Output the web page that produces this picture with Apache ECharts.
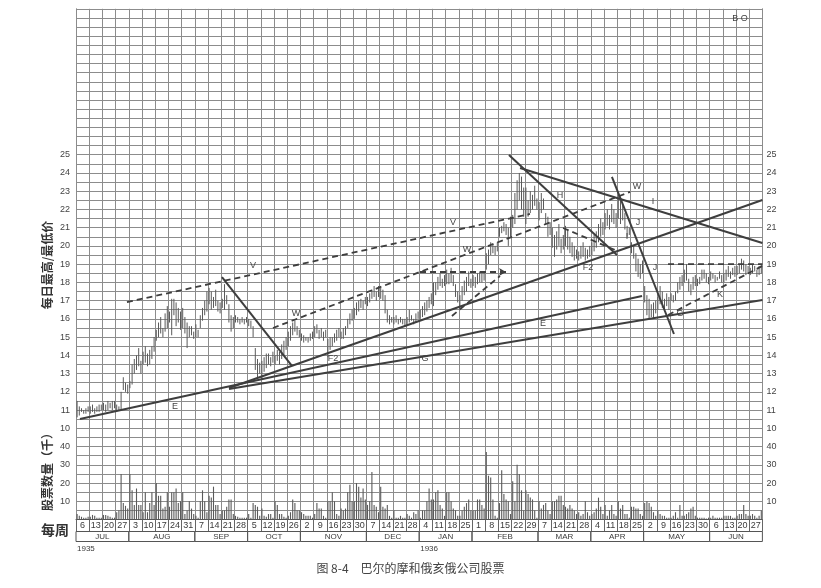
<!DOCTYPE html>
<html><head><meta charset="utf-8">
<script src="https://cdn.jsdelivr.net/npm/echarts@6/dist/echarts.min.js"></script>
<style>html,body{margin:0;padding:0;background:#fff}#c{width:821px;height:588px}</style>
</head><body><div id="c"></div>
<script>
// ---------- categories / tick labels ----------
const weekLabels = [6,13,20,27, 3,10,17,24,31, 7,14,21,28, 5,12,19,26, 2,9,16,23,30, 7,14,21,28,
  4,11,18,25, 1,8,15,22,29, 7,14,21,28, 4,11,18,25, 2,9,16,23,30, 6,13,20,27];
const months = ['JUL','AUG','SEP','OCT','NOV','DEC','JAN','FEB','MAR','APR','MAY','JUN'];
const monthWeeks = [4,5,4,4,5,4,4,5,4,4,5,4];
const yearLabels = ['1935','1936'];
const yearStartWeeks = [0,26];
const priceTicks = [10,11,12,13,14,15,16,17,18,19,20,21,22,23,24,25];
const volumeTicks = [10,20,30,40];

// ---------- daily high / low (6 trading days per week) ----------
const dailyLow = [
 10.6,10.7,10.9,10.8,10.8,10.9, 10.8,10.9,10.8,10.9,10.9,11.0, 11.0,10.9,11.0,11.1,11.0,11.1, 10.9,11.0,11.0,12.1,12.0,11.9,
 12.2,12.4,13.0,13.2,13.4,13.0, 13.5,13.6,13.4,13.5,13.8,14.2, 14.8,15.0,15.2,15.0,15.3,15.5, 15.8,15.1,16.2,15.6,15.8,15.4, 15.5,15.2,14.4,15.0,15.1,14.9,
 15.0,15.0,15.5,15.9,16.2,16.4, 16.8,16.5,16.6,16.7,16.4,16.3, 16.6,16.5,16.8,15.8,15.3,15.5, 15.8,15.8,15.7,15.8,15.7,15.8,
 15.6,15.5,15.0,13.2,12.8,13.0, 12.7,13.1,13.3,13.5,13.4,13.6, 13.5,13.7,13.5,13.8,14.0,14.3, 14.5,14.8,15.1,15.3,15.1,15.0,
 14.8,14.7,14.8,14.7,14.8,14.9, 15.0,15.2,14.9,15.0,14.8,15.0, 13.9,14.3,14.5,14.7,14.8,15.0, 14.9,14.9,15.1,15.5,15.7,15.9, 16.0,16.2,16.4,16.6,16.5,16.8,
 16.7,16.9,17.1,17.2,17.0,17.2, 17.1,17.0,16.3,15.8,15.7,15.8, 15.7,15.8,15.7,15.8,15.7,15.6, 15.7,15.8,15.9,15.7,15.8,16.0,
 16.0,16.1,16.2,16.4,16.6,16.8, 16.7,17.3,17.6,17.8,17.7,17.8, 17.9,17.9,18.0,17.8,17.2,16.9, 16.6,17.0,17.3,17.5,17.8,17.7,
 17.8,17.7,17.9,18.0,18.0,18.1, 18.7,19.0,19.5,19.6,19.5,19.7, 20.5,20.7,20.8,20.6,20.0,20.5, 21.0,21.2,22.0,22.5,22.0,21.6, 21.2,21.6,21.8,22.0,22.2,22.0,
 21.4,21.8,22.0,21.2,20.5,20.6, 19.9,19.4,19.8,20.0,19.6,19.8, 20.0,19.8,19.6,19.4,19.2,19.3, 19.2,19.3,19.4,19.2,19.3,19.4,
 19.5,19.7,19.9,20.2,20.5,20.6, 20.9,21.1,20.9,21.3,21.2,21.0, 21.5,21.2,21.4,20.9,20.5,20.6, 19.6,19.3,18.6,18.3,18.2,18.5,
 16.9,16.2,16.0,16.1,16.0,16.3, 16.5,16.8,16.6,16.4,16.7,16.5, 17.0,16.9,17.0,17.4,17.6,17.8, 18.0,18.1,17.5,17.3,17.6,17.8, 17.8,17.9,18.1,18.2,18.0,17.9,
 18.1,18.2,18.0,18.1,18.2,18.0, 18.0,18.1,18.3,18.2,18.4,18.3, 18.4,18.5,18.7,18.6,18.4,18.5, 18.4,18.5,18.6,18.3,18.4,18.5
];
const dailyHigh = [
 11.5,11.2,11.1,11.0,11.1,11.2, 11.2,11.3,11.1,11.2,11.3,11.3, 11.4,11.3,11.5,11.4,11.5,11.5, 11.3,11.2,12.0,12.8,12.5,12.4,
 12.6,13.5,13.8,14.0,14.4,13.7, 14.2,14.5,14.1,14.3,14.5,15.0, 15.4,15.8,16.1,15.5,16.3,16.7, 16.4,17.1,17.1,16.9,16.6,16.4, 16.6,16.1,15.8,15.6,15.6,15.3,
 15.7,15.4,16.2,16.6,17.0,17.5, 17.7,17.5,17.2,17.6,17.0,16.9, 17.1,17.9,17.3,16.8,16.2,16.1, 16.2,16.1,16.0,16.1,16.0,16.1,
 16.0,15.9,15.6,14.4,13.8,13.6, 13.7,13.9,14.1,14.1,13.9,14.2, 14.0,14.3,14.2,14.6,14.8,15.0, 15.3,15.6,15.8,15.9,15.6,15.4,
 15.2,15.1,15.0,15.0,15.2,15.3, 15.6,15.7,15.4,15.5,15.3,15.4, 14.9,15.0,15.0,15.2,15.4,15.5, 15.3,15.5,15.6,16.0,16.3,16.5, 16.6,16.9,17.0,17.1,17.0,17.2,
 17.2,17.4,17.6,17.8,17.5,17.8, 17.7,17.6,17.3,16.5,16.2,16.1, 16.1,16.2,16.0,16.1,16.0,16.0, 16.1,16.5,16.2,16.0,16.3,16.4,
 16.5,16.7,16.9,17.0,17.2,17.4, 18.0,18.0,18.3,18.5,18.2,18.4, 18.7,18.5,18.8,18.4,17.9,17.5, 17.3,17.8,18.1,18.3,18.6,18.2,
 18.4,18.3,18.5,18.6,18.5,18.6, 19.6,19.8,20.2,20.1,20.0,20.2, 21.0,21.1,21.3,21.2,21.0,21.6, 21.7,22.9,23.6,24.0,23.8,23.2, 23.2,22.5,23.0,22.8,23.3,22.6,
 22.4,22.9,22.6,21.8,21.6,21.3, 21.0,20.6,20.8,21.2,20.4,20.6, 21.1,20.9,20.5,20.2,20.0,19.8, 19.7,20.0,20.2,19.9,19.8,20.0,
 20.2,20.6,20.8,21.2,21.5,21.3, 21.8,22.0,21.7,22.3,22.0,21.8, 22.8,22.5,22.3,21.8,21.1,21.0, 20.2,20.0,19.6,19.3,19.0,19.2,
 17.8,17.3,17.1,16.8,16.9,17.0, 17.2,17.8,17.5,17.1,17.4,17.2, 17.4,17.3,17.5,18.0,18.3,18.4, 18.7,19.0,18.2,17.9,18.3,18.4, 18.2,18.3,18.7,18.7,18.5,18.3,
 18.6,18.5,18.4,18.3,18.6,18.4, 18.5,18.7,18.9,18.6,18.8,18.9, 18.9,19.0,19.3,19.2,19.0,18.9, 18.8,19.0,18.9,18.7,18.9,19.0
];
// ---------- daily volume (thousands) ----------
const dailyVolume = [
 3,2,1.5,1,1,1.5, 1.5,2.5,2,1,1,1, 2.5,2.5,2,1.5,1,1, 4,5,25,9,7.5,6,
 25,16,8,17,8,8, 4,15,4,9,15,8, 20,13,13,6,7,15, 7,15,15,17,9,10, 15,3,5,10,6,3,
 2,1,10,16,10,4, 13,12,18,8,8,3, 5,5,7,11,11,3, 2,1.5,1,1,1,1,
 3,1,9,8,7,2, 6,2,1.5,3,3,1, 10,8,3,3,1.5,1, 2,4,11,9,5,5,
 4,3,2,2,2,1, 3,9,6,6,2,1, 10,10,15,10,3,2, 6,5,6,15,19,10, 10,20,18,12,17,11,
 8,10,26,8,7,4, 18,7,6,8,2,1, 5,1,1,2,1,1, 3,2,1,4,3,5,
 1,5,5,10,17,11, 11,15,16,8,6,2, 15,15,10,6,5,2, 2,5,7,9,11,5,
 5,5,11,11,8,6, 37,24,23,11,2,1, 9,27,14,11,10,3, 21,10,30,25,16,5, 16,14,12,11,5,1,
 10,6,8,9,5,3, 10,10,11,13,13,8, 7,6,8,6,5,3, 4,2,3,10,4,2,
 3,4,6,12,7,3, 8,2,5,8,3,2, 10,6,8,3,3,1, 7,7,6,6,3,2,
 9,10,9,7,4,2, 5,3,2,2,1,1, 1,2,4,1,8,2, 2,3,4,6,7,2, 1,1,1,1,0.5,1,
 1,2,1,1,1,1, 2,2,2,2,1,1, 2,3,3,8,3,2, 2,3,2,1,2,5
];

// ---------- trend lines [week, price, week, price] ----------
const solidLines = [
 [0.30,10.51, 42.88,17.25],   // E
 [11.59,12.15, 52.0,17.03],   // G
 [11.59,12.21, 52.0,22.52],   // F2
 [11.06,18.29, 16.36,13.42],  // Sep top down-line
 [32.8,24.98, 40.98,19.5],    // H
 [33.64,24.27, 52.0,20.16],   // I
 [40.6,23.78, 45.3,15.17]     // J
];
const dashedLines = [
 [3.86,16.92, 34.39,21.75],   // V
 [14.92,15.5, 41.97,22.96],   // W
 [26.06,18.57, 32.58,18.57],  // triangle top
 [28.48,16.16, 32.12,18.35],  // triangle bottom
 [36.9,20.98, 40.83,19.78],   // March
 [44.85,19.0, 52.0,19.0],     // top at 19
 [44.85,16.21, 52.0,18.9]     // K
];
const annotationTexts = ['E','E','G','G','F2','F2','V','V','W','W','W','H','I','I','J','J','K','B O'];
const annotationPoints = [
 [7.5,11.22],[35.38,15.72],[26.44,13.85],[45.76,16.32],[19.47,13.85],[38.79,18.79],
 [13.41,18.95],[28.56,21.31],[16.67,16.27],[29.62,19.78],[42.5,23.23],[36.67,22.79],
 [43.71,22.46],[41.74,20.49],[42.58,21.26],[43.86,18.79],[48.79,17.31],[50.3,32.45]
];

// ---------- derived ----------
const DAYS = 6;
const priceData = dailyLow.map((lo,i)=>[Math.floor(i/DAYS)+((i%DAYS)+0.5)/DAYS, lo, dailyHigh[i]]);
const volData = dailyVolume.map((v,i)=>[Math.floor(i/DAYS)+((i%DAYS)+0.5)/DAYS, v]);
let acc = 0;
const monthData = monthWeeks.map(n=>{const s=acc; acc+=n; return [s, acc];});

const GRID = '#8c8c8c', INK = '#3e3e3e', TXT = '#3a3a3a', BAR = '#5a5a5a';
function yLabel(v){
  const r = Math.round(v*10)/10;
  if (priceTicks.indexOf(r) >= 0) return String(r);
  const vol = Math.round((r-5)*10);
  if (Number.isInteger(r) && volumeTicks.indexOf(vol) >= 0) return String(vol);
  return '';
}
const lineSeries = [];
solidLines.forEach(l=>lineSeries.push({type:'line', data:[[l[0],l[1]],[l[2],l[3]]], showSymbol:false, silent:true,
  lineStyle:{color:INK, width:2}, z:5}));
dashedLines.forEach((l,k)=>lineSeries.push({type:'line', silent:true, z:5,
  data:[{value:[l[0],l[1]], symbol:'none'}, {value:[l[2],l[3]], symbol: k===2 ? 'arrow' : 'none', symbolSize:[6,7], symbolRotate:-90}],
  showSymbol:true, symbol:'none', itemStyle:{color:INK},
  lineStyle:{color:INK, width:1.8, type:[6,4]}}));

const chart = echarts.init(document.getElementById('c'), null, {renderer:'canvas'});
chart.setOption({
  animation:false,
  backgroundColor:'#fff',
  textStyle:{fontFamily:'Liberation Sans, Arial, sans-serif'},
  title:{text:'图 8-4　巴尔的摩和俄亥俄公司股票', left:'center', top:557,
    textStyle:{fontFamily:'Noto Sans CJK SC', fontSize:12, fontWeight:'normal', color:'#444'}},
  grid:{left:76, right:58.6, top:8.8, bottom:68.5, containLabel:false},
  xAxis:[
    {type:'value', min:0, max:52, interval:1, position:'bottom',
     axisLine:{show:false}, axisTick:{show:false}, axisLabel:{show:false},
     splitLine:{show:true, lineStyle:{color:GRID, width:1}}},
    {type:'category', data:weekLabels, position:'bottom', boundaryGap:true,
     axisLine:{show:true, lineStyle:{color:'#555', width:1}},
     axisTick:{show:true, length:12, lineStyle:{color:'#666'}},
     axisLabel:{fontSize:9, margin:2, color:TXT, interval:0}, splitLine:{show:false}}
  ],
  yAxis:[
    {type:'value', min:5, max:33, interval:0.5, position:'left',
     axisLine:{show:true, lineStyle:{color:GRID}}, axisTick:{show:false},
     axisLabel:{fontSize:9, color:'#444', margin:6, formatter:yLabel, showMinLabel:false, showMaxLabel:false},
     splitLine:{show:true, lineStyle:{color:GRID, width:1}}},
    {type:'value', min:5, max:33, interval:0.5, position:'right',
     axisLine:{show:true, lineStyle:{color:GRID}}, axisTick:{show:false},
     axisLabel:{fontSize:9, color:'#444', margin:4, formatter:yLabel, showMinLabel:false, showMaxLabel:false},
     splitLine:{show:false}},
    {type:'value', min:0, max:280, show:false}
  ],
  graphic:[
    {type:'text', x:47, y:265, rotation:Math.PI/2, style:{text:'每日最高/最低价', align:'center', verticalAlign:'middle',
      font:'bold 12px "Noto Sans CJK SC"', fill:'#333'}},
    {type:'text', x:47, y:469, rotation:Math.PI/2, style:{text:'股票数量（千）', align:'center', verticalAlign:'middle',
      font:'bold 12px "Noto Sans CJK SC"', fill:'#333'}},
    {type:'text', x:55, y:530, style:{text:'每周', align:'center', verticalAlign:'middle',
      font:'bold 14px "Noto Sans CJK SC"', fill:'#333'}}
  ],
  series:[
    {type:'custom', name:'price', coordinateSystem:'cartesian2d', xAxisIndex:0, yAxisIndex:0, data:priceData, silent:true, z:3,
     renderItem:function(params, api){
       const a = api.coord([api.value(0), api.value(1)]), b = api.coord([api.value(0), api.value(2)]);
       return {type:'line', shape:{x1:a[0],y1:a[1],x2:b[0],y2:b[1]}, style:{stroke:BAR, lineWidth:1}};
     }},
    {type:'custom', name:'volume', coordinateSystem:'cartesian2d', xAxisIndex:0, yAxisIndex:2, data:volData, silent:true, z:3,
     renderItem:function(params, api){
       const a = api.coord([api.value(0), 0]), b = api.coord([api.value(0), api.value(1)]);
       return {type:'line', shape:{x1:a[0],y1:a[1],x2:b[0],y2:b[1]}, style:{stroke:BAR, lineWidth:1.1}};
     }},
    {type:'custom', name:'months', coordinateSystem:'cartesian2d', xAxisIndex:0, yAxisIndex:0, data:monthData, silent:true, clip:false,
     renderItem:function(params, api){
       const s = api.coord([api.value(0), 5]), e = api.coord([api.value(1), 5]);
       const top = s[1]+12, bot = s[1]+22, st = {stroke:'#555', lineWidth:1};
       return {type:'group', children:[
         {type:'line', shape:{x1:s[0],y1:top,x2:e[0],y2:top}, style:st},
         {type:'line', shape:{x1:s[0],y1:bot,x2:e[0],y2:bot}, style:st},
         {type:'line', shape:{x1:s[0],y1:top,x2:s[0],y2:bot}, style:st},
         {type:'line', shape:{x1:e[0],y1:top,x2:e[0],y2:bot}, style:st},
         {type:'text', style:{text:months[params.dataIndex], x:(s[0]+e[0])/2, y:(top+bot)/2+0.5, align:'center', verticalAlign:'middle',
           font:'8px "Liberation Sans", Arial, sans-serif', fill:TXT}}
       ]};
     }},
    {type:'custom', name:'years', coordinateSystem:'cartesian2d', xAxisIndex:0, yAxisIndex:0, data:yearStartWeeks.map(w=>[w,5]), silent:true, clip:false,
     renderItem:function(params, api){
       const p = api.coord([api.value(0), api.value(1)]);
       return {type:'text', style:{text:yearLabels[params.dataIndex], x:p[0]+1, y:p[1]+29, align:'left', verticalAlign:'middle',
         font:'8px "Liberation Sans", Arial, sans-serif', fill:TXT}};
     }},
    {type:'custom', name:'annotations', coordinateSystem:'cartesian2d', xAxisIndex:0, yAxisIndex:0, data:annotationPoints, silent:true, clip:false, z:6,
     renderItem:function(params, api){
       const p = api.coord([api.value(0), api.value(1)]);
       return {type:'text', style:{text:annotationTexts[params.dataIndex], x:p[0], y:p[1], align:'center', verticalAlign:'middle',
         font:'9px "Liberation Sans", Arial, sans-serif', fill:'#444'}};
     }}
  ].concat(lineSeries)
});
</script></body></html>
